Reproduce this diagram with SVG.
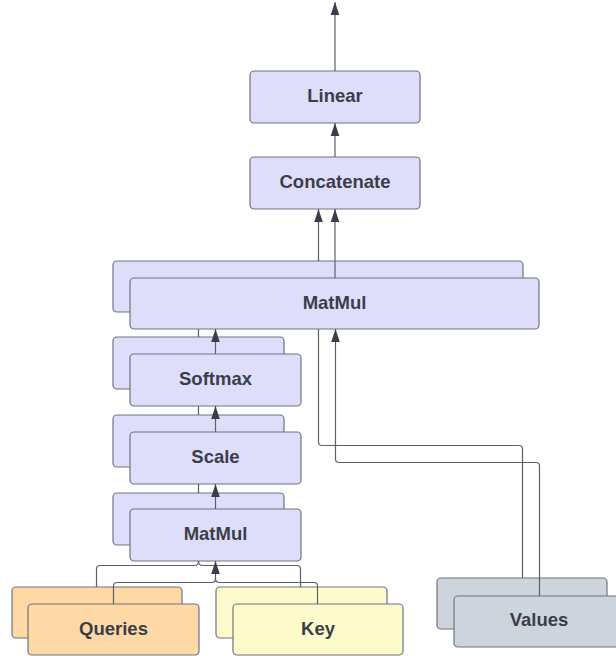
<svg xmlns="http://www.w3.org/2000/svg" width="616" height="656" viewBox="0 0 616 656">
<style>
.box{stroke:#6f7381;stroke-width:1.2}
.op{fill:#dedefb}
.q{fill:#fed9a5}
.k{fill:#fdfbcb}
.v{fill:#ced4dc}
.t{font-family:"Liberation Sans",Arial,sans-serif;font-weight:bold;font-size:18.5px;fill:#3b3e4a;text-anchor:middle}
.c{fill:none;stroke:#5c606d;stroke-width:1.2}
.a{marker-end:url(#arr)}
</style>
<defs>
<marker id="arr" viewBox="0 -5 14 10" markerWidth="14" markerHeight="10" refX="13" refY="0" orient="auto" markerUnits="userSpaceOnUse">
<path d="M0,-4.3 L13,0 L0,4.3 Z" fill="#3b3e4a"/>
</marker>
</defs>
<g id="linear">
<rect class="box op" x="250" y="71" width="170" height="52" rx="4"/>
<text class="t" x="335" y="101.5">Linear</text>
</g>
<g id="concatenate">
<rect class="box op" x="250" y="157" width="170" height="52" rx="4"/>
<text class="t" x="335" y="187.5">Concatenate</text>
</g>
<g id="matmul2">
<rect class="box op" x="113" y="261" width="410" height="51" rx="4"/>
<rect class="box op" x="130" y="278" width="409" height="51" rx="4"/>
<text class="t" x="334.5" y="308.5">MatMul</text>
</g>
<g id="softmax">
<rect class="box op" x="113" y="337" width="171" height="52" rx="4"/>
<rect class="box op" x="130" y="354" width="171" height="52" rx="4"/>
<text class="t" x="215.5" y="384.5">Softmax</text>
</g>
<g id="scale">
<rect class="box op" x="113" y="415" width="171" height="52" rx="4"/>
<rect class="box op" x="130" y="432" width="171" height="52" rx="4"/>
<text class="t" x="215.5" y="462.5">Scale</text>
</g>
<g id="matmul1">
<rect class="box op" x="113" y="493" width="171" height="52" rx="4"/>
<rect class="box op" x="130" y="509" width="171" height="52" rx="4"/>
<text class="t" x="215.5" y="539.5">MatMul</text>
</g>
<g id="queries">
<rect class="box q" x="12" y="587" width="170" height="51" rx="4"/>
<rect class="box q" x="28" y="604" width="171" height="51" rx="4"/>
<text class="t" x="113.5" y="634.5">Queries</text>
</g>
<g id="key">
<rect class="box k" x="216" y="587" width="171" height="51" rx="4"/>
<rect class="box k" x="233" y="604" width="170" height="51" rx="4"/>
<text class="t" x="318" y="634.5">Key</text>
</g>
<g id="values">
<rect class="box v" x="437" y="578" width="170" height="51" rx="4"/>
<rect class="box v" x="454" y="596" width="170" height="51" rx="4"/>
<text class="t" x="539" y="626">Values</text>
</g>
<g id="connectors">
<path class="c a" d="M335,71 V2"/>
<path class="c a" d="M335,157 V123"/>
<path class="c a" d="M318.5,261 V209"/>
<path class="c a" d="M335,278 V209"/>
<path class="c" d="M198.5,337 V329"/>
<path class="c a" d="M215.5,354 V329"/>
<path class="c" d="M198.5,415 V406"/>
<path class="c a" d="M215.5,432 V406"/>
<path class="c" d="M198.5,493 V484"/>
<path class="c a" d="M215.5,509 V484"/>
<path class="c" d="M96.5,587 V569 Q96.5,565.5 100,565.5 H194.5 Q198.5,565.5 198.5,561"/>
<path class="c" d="M300.5,587 V569 Q300.5,565.5 297,565.5 H202.5 Q198.5,565.5 198.5,561"/>
<path class="c" d="M317.5,604 V586 Q317.5,582.5 314,582.5 H219.5 Q215.5,582.5 215.5,578.5"/>
<path class="c a" d="M113.5,604 V586 Q113.5,582.5 117,582.5 H211.5 Q215.5,582.5 215.5,578.5 V561"/>
<path class="c" d="M522.5,578 V449 Q522.5,445.5 519,445.5 H322 Q318.5,445.5 318.5,442 V329"/>
<path class="c a" d="M539.5,596 V466 Q539.5,462.5 536,462.5 H339 Q335.5,462.5 335.5,459 V329"/>
</g>
</svg>
